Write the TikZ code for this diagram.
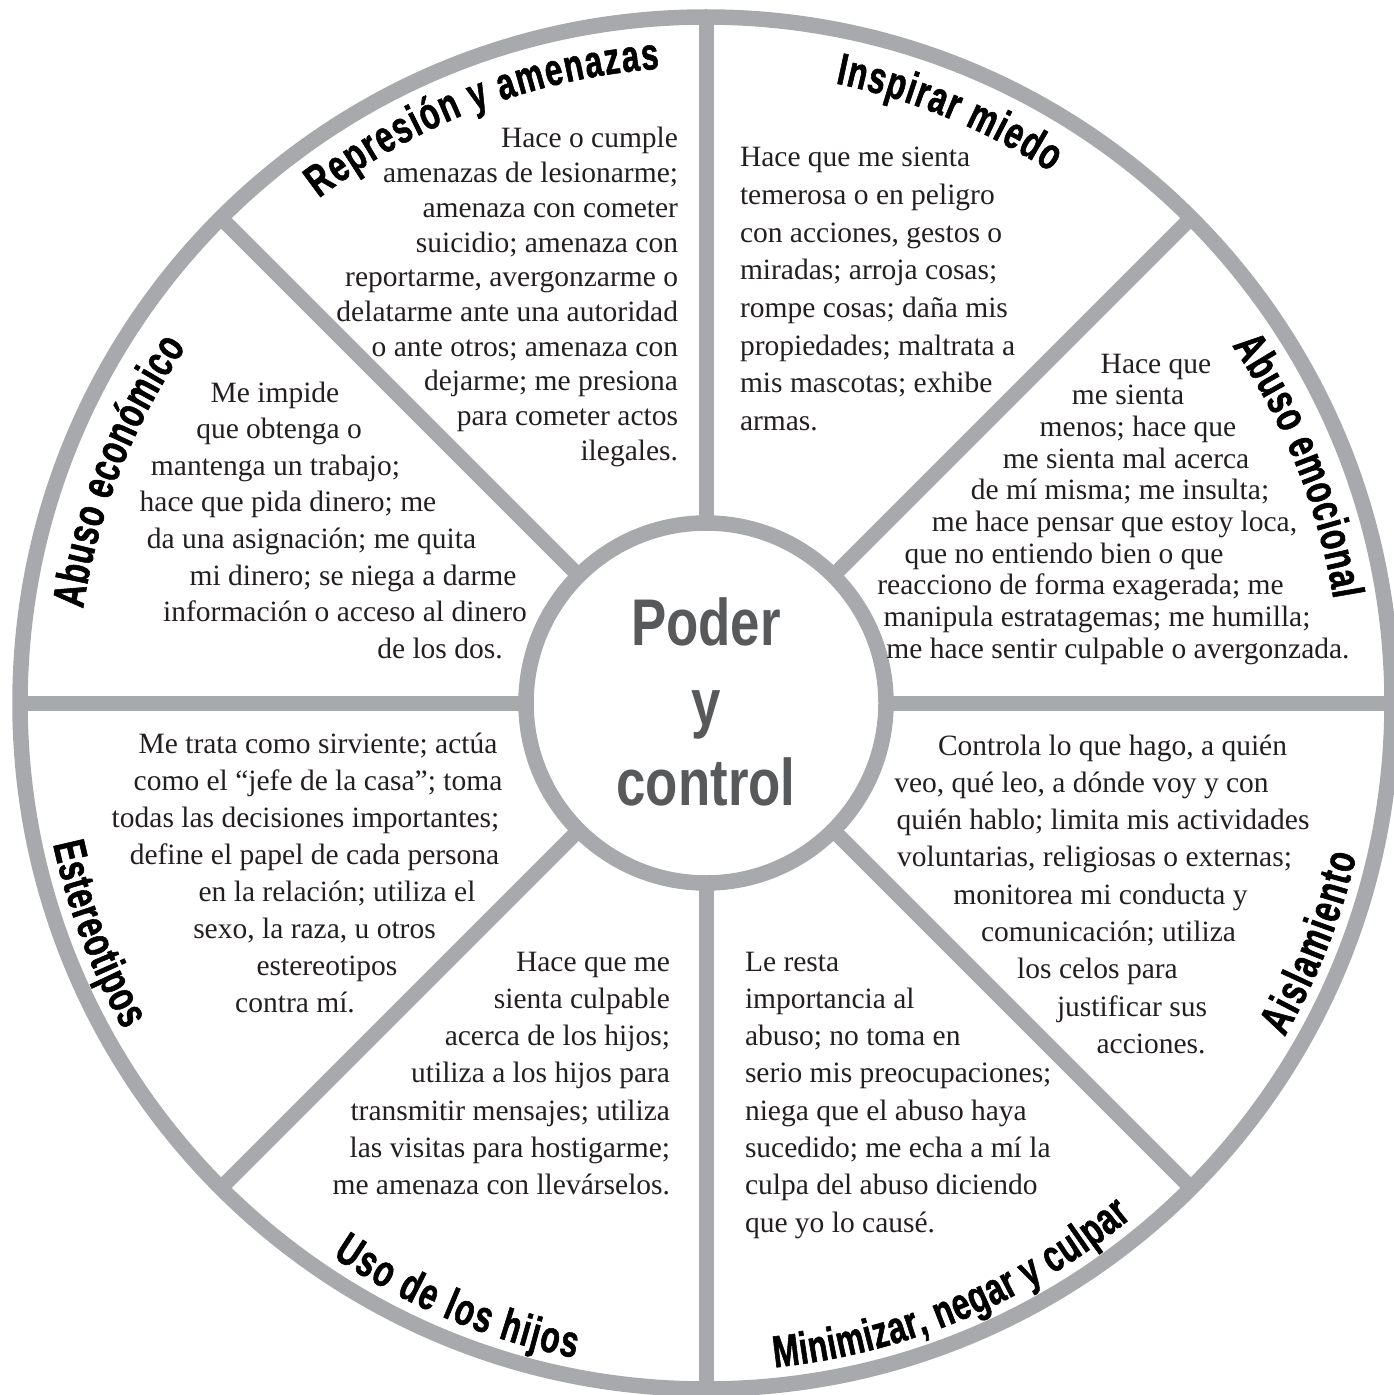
\documentclass[tikz,border=0pt]{standalone}
\usepackage{fontspec}
\setmainfont{Liberation Serif}
\newfontfamily\condfam[FakeStretch=0.8]{Liberation Sans}
\newfontfamily\lblfam[FakeStretch=0.7,FakeBold=1.2]{Liberation Sans Bold}
\usetikzlibrary{decorations.text}
\definecolor{wheelgray}{HTML}{A7A9AC}
\definecolor{hubgray}{HTML}{58595B}
\definecolor{inkblack}{HTML}{231F20}
\newcommand\lblfont{\lblfam\fontsize{45bp}{45bp}\selectfont\color{black}}
\newcommand\bodyfont{\fontsize{29.5bp}{35bp}\selectfont}
\begin{document}
\begin{tikzpicture}[x=1bp,y=1bp,
  spoke/.style={draw=wheelgray,line width=15bp},
  ring/.style={draw=wheelgray,line width=15.5bp},
  body/.style={font=\bodyfont,text=inkblack,inner sep=0pt,outer sep=0pt},
  hub/.style={font=\condfam\bfseries\fontsize{66bp}{80bp}\selectfont,text=hubgray,inner sep=0pt,anchor=base},
  arclabel/.style={decorate,decoration={text along path,text={|\lblfont|#1},text align=fit to path}}]
\useasboundingbox (0,-1395) rectangle (1394,0);
\clip (0,-1395) rectangle (1394,0);
\coordinate (C) at (706,-703);
% spokes
\foreach \a in {0,45,...,315} \draw[spoke] (C) -- ([shift={(C)}]\a:686);
% rings
\draw[ring,fill=white] (C) circle[radius=180];
\draw[ring] (C) circle[radius=686];
% hub text
\node[hub] (hub1) at (706,-645) {Poder};
\node[hub] (hub2) at (706,-725) {y};
\node[hub] (hub3) at (706,-805) {control};
% curved labels (upper: clockwise, tops outward)
\path[arclabel={Represión y amenazas}] ([shift={(C)}]127.5:636) arc[start angle=127.5,end angle=94.2,radius=636];
\path[arclabel={Inspirar miedo}] ([shift={(C)}]78.2:633) arc[start angle=78.2,end angle=57,radius=633];
\path[arclabel={Abuso emocional}] ([shift={(C)}]34.2:636) arc[start angle=34.2,end angle=9.4,radius=636];
\path[arclabel={Abuso económico}] ([shift={(C)}]171.4:630) arc[start angle=171.4,end angle=145.6,radius=630];
% curved labels (lower: counter-clockwise, tops inward)
\path[arclabel={Estereotipos}] ([shift={(C)}]192.2:668) arc[start angle=192.2,end angle=209.3,radius=668];
\path[arclabel={Uso de los hijos}] ([shift={(C)}]236:668) arc[start angle=236,end angle=258.7,radius=668];
\path[arclabel={Minimizar, negar y culpar}] ([shift={(C)}]275.9:668) arc[start angle=275.9,end angle=309.6,radius=668];
\path[arclabel={Aislamiento}] ([shift={(C)}]330:668) arc[start angle=330,end angle=346.8,radius=668];
% Represion block
\foreach \t [count=\i] in {{Hace o cumple},{amenazas de lesionarme;},{amenaza con cometer},{suicidio; amenaza con},{reportarme, avergonzarme o},{delatarme ante una autoridad},{o ante otros; amenaza con},{dejarme; me presiona},{para cometer actos},{ilegales.}}
  \node[body,anchor=base east] (rep\i) at (678,{-148-(\i-1)*34.7}) {\t};
% Inspirar block
\foreach \t [count=\i] in {{Hace que me sienta},{temerosa o en peligro},{con acciones, gestos o},{miradas; arroja cosas;},{rompe cosas; daña mis},{propiedades; maltrata a},{mis mascotas; exhibe},{armas.}}
  \node[body,anchor=base west] (ins\i) at (740,{-167-(\i-1)*37.6}) {\t};
% Abuso emocional block
\foreach \x/\t [count=\i] in {1156/{Hace que},1128/{me sienta},1138/{menos; hace que},1126/{me sienta mal acerca},1120/{de mí misma; me insulta;},1114.5/{me hace pensar que estoy loca,},1064/{que no entiendo bien o que},1080.5/{reacciono de forma exagerada; me},1097/{manipula estratagemas; me humilla;},1118/{me hace sentir culpable o avergonzada.}}
  \node[body,anchor=base] (emo\i) at (\x,{-373-(\i-1)*31.7}) {\t};
% Abuso economico block
\foreach \x/\t [count=\i] in {275/{Me impide},279/{que obtenga o},275.5/{mantenga un trabajo;},288/{hace que pida dinero; me},311.5/{da una asignación; me quita},353/{mi dinero; se niega a darme},345/{información o acceso al dinero},440/{de los dos.}}
  \node[body,anchor=base] (eco\i) at (\x,{-402-(\i-1)*36.6}) {\t};
% Estereotipos block
\foreach \x/\t [count=\i] in {318/{Me trata como sirviente; actúa},318/{como el “jefe de la casa”; toma},305.5/{todas las decisiones importantes;},314.5/{define el papel de cada persona},337/{en la relación; utiliza el},314.5/{sexo, la raza, u otros},327/{estereotipos},295/{contra mí.}}
  \node[body,anchor=base] (est\i) at (\x,{-753-(\i-1)*37}) {\t};
% Uso de los hijos block
\foreach \t [count=\i] in {{Hace que me},{sienta culpable},{acerca de los hijos;},{utiliza a los hijos para},{transmitir mensajes; utiliza},{las visitas para hostigarme;},{me amenaza con llevárselos.}}
  \node[body,anchor=base east] (uso\i) at (670,{-971-(\i-1)*37.3}) {\t};
% Minimizar block
\foreach \t [count=\i] in {{Le resta},{importancia al},{abuso; no toma en},{serio mis preocupaciones;},{niega que el abuso haya},{sucedido; me echa a mí la},{culpa del abuso diciendo},{que yo lo causé.}}
  \node[body,anchor=base west] (min\i) at (745,{-971-(\i-1)*37.3}) {\t};
% Aislamiento block
\foreach \x/\t [count=\i] in {1112.5/{Controla lo que hago, a quién},1081.5/{veo, qué leo, a dónde voy y con},1103/{quién hablo; limita mis actividades},1094.5/{voluntarias, religiosas o externas;},1100.5/{monitorea mi conducta y},1108.5/{comunicación; utiliza},1097.5/{los celos para},1132/{justificar sus},1151/{acciones.}}
  \node[body,anchor=base] (ais\i) at (\x,{-755-(\i-1)*37.3}) {\t};
\end{tikzpicture}
\end{document}
